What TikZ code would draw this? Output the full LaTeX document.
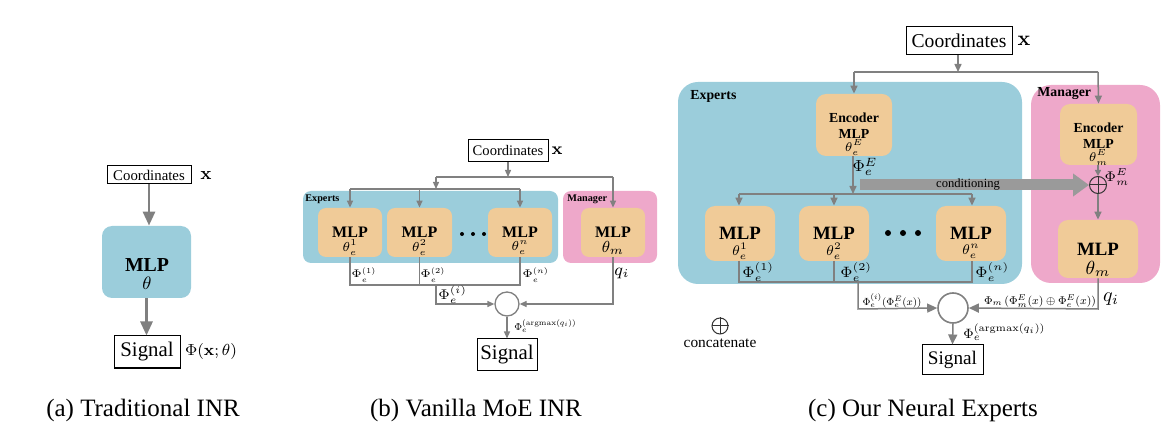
\RequirePackage{fix-cm}
\documentclass[tikz,border=0pt]{standalone}
\usepackage[no-math]{fontspec}
\usepackage{graphicx}
\setmainfont{Liberation Serif}
\usetikzlibrary{arrows.meta,fit,calc}
\definecolor{expblue}{HTML}{9BCDDB}
\definecolor{manpink}{HTML}{EEA8CA}
\definecolor{mlporange}{HTML}{F0CB98}
\definecolor{lgray}{HTML}{808080}
\definecolor{condgray}{HTML}{9A9A9A}
\newcommand{\fsz}[1]{\fontsize{#1}{#1}\selectfont}
\tikzset{
  txtbox/.style={draw=black, line width=0.5pt, inner sep=0pt},
  region/.style={inner sep=0pt, draw=none},
  mlpbox/.style={fill=mlporange, draw=none, inner sep=0pt, rounded corners=4pt},
  wireA/.style={draw=lgray, line width=1.4pt, -{Triangle[length=7pt,width=6pt]}},
  wireB/.style={draw=lgray, line width=0.65pt},
  arrB/.style={wireB, -{Triangle[length=3.5pt,width=3pt]}},
  wireC/.style={draw=lgray, line width=0.75pt},
  arrC/.style={wireC, -{Triangle[length=4pt,width=3.5pt]}},
  arrCbig/.style={wireC, -{Triangle[length=5pt,width=4.5pt]}},
  lbl/.style={inner sep=0pt},
  dot/.style={circle, fill=black, inner sep=0pt},
  caption/.style={inner sep=0pt, font=\fsz{12.5pt}},
}
\begin{document}
\begin{tikzpicture}[x=0.5pt,y=-0.5pt]
\useasboundingbox (0,0) rectangle (1173,443);

% ---------------- (a) ----------------
\node[txtbox, minimum width=42pt, minimum height=9pt, font=\fsz{7.4pt}] (ca) at (149,175) {Coordinates};
\node[lbl, font=\fsz{9pt}] (xa) at (206,176) {$\mathbf{x}$};
\node[region, fill=expblue, rounded corners=5pt, fit={(102,226)(191,298)}] (mlpa) {};
\node[lbl, font=\bfseries\fsz{9.9pt}] (mlpat) at (147,265) {MLP};
\node[lbl, font=\fsz{9pt}] (thetaa) at (147,283) {$\theta$};
\node[txtbox, minimum width=33pt, minimum height=16pt, font=\fsz{10.4pt}] (sa) at (147,352) {Signal};
\node[lbl, font=\fsz{8pt}] (phia) at (211,352) {$\Phi(\mathbf{x};\theta)$};
\draw[wireA] (ca.south) -- (ca.south |- mlpa.north);
\draw[wireA] (mlpa.south) -- (mlpa.south |- sa.north);
\node[caption] (capa) at (143,410) {(a) Traditional INR};

% ---------------- (b) ----------------
\node[txtbox, minimum width=40pt, minimum height=11pt, font=\fsz{7.3pt}] (cb) at (508,151) {Coordinates};
\node[lbl, font=\fsz{8.5pt}] (xb) at (557,151) {$\mathbf{x}$};
\node[region, fill=expblue, rounded corners=4pt, fit={(303,191)(558,263)}] (expb) {};
\node[region, fill=manpink, rounded corners=4pt, fit={(563,191)(657,263)}] (manb) {};
\node[lbl, anchor=west, font=\bfseries\fsz{5.1pt}] (expbt) at (305,199) {Experts};
\node[lbl, anchor=west, font=\bfseries\fsz{5.1pt}] (manbt) at (567,199) {Manager};
\node[mlpbox, fit={(318,208)(382,257)}] (e1b) {};
\node[mlpbox, fit={(387,208)(452,257)}] (e2b) {};
\node[mlpbox, fit={(488,208)(552,257)}] (enb) {};
\node[mlpbox, fit={(581,208)(645,257)}] (mb) {};
\foreach \n/\s in {e1b/1, e2b/2, enb/n}{
  \node[lbl, font=\bfseries\fsz{8pt}] (\n t) at ($(\n.north)+(0,25)$) {MLP};
  \node[lbl, font=\fsz{6.5pt}] (\n th) at ($(\n.north)+(0,40)$) {$\theta_e^{\s}$};
}
\node[lbl, font=\bfseries\fsz{8pt}] (mbt) at ($(mb.north)+(0,25)$) {MLP};
\node[lbl, font=\fsz{8pt}] (mbth) at ($(mb.north)+(0,40)$) {$\theta_m$};
\node[dot, minimum size=2pt] (db1) at (462,234) {};
\node[dot, minimum size=2pt] (db2) at (473,234) {};
\node[dot, minimum size=2pt] (db3) at (484,234) {};
\coordinate (jb0) at (508,177);
\coordinate (jb1) at (436,189);
\draw[arrB] (cb.south -| jb0) -- (jb0);
\draw[wireB] (436,177) -- (mb.north |- jb0);
\draw[arrB] (436,177) -- (jb1);
\draw[arrB] (mb.north |- jb0) -- (mb.north);
\draw[wireB] (e1b.north |- jb1) -- (enb.north |- jb1);
\draw[arrB] (e1b.north |- jb1) -- (e1b.north);
\draw[arrB] (e2b.north |- jb1) -- (e2b.north);
\draw[arrB] (enb.north |- jb1) -- (enb.north);
\node[circle, draw=lgray, line width=0.65pt, minimum size=12pt, inner sep=0pt] (gb) at (507,304) {};
\node[txtbox, minimum width=30pt, minimum height=15.5pt, font=\fsz{10.4pt}] (sb) at (507,354.5) {Signal};
\coordinate (ob) at (350,285);
\draw[wireB] (e1b.south) -- (e1b.south |- ob) -- (enb.south |- ob) -- (enb.south);
\draw[wireB] (e2b.south) -- (e2b.south |- ob);
\draw[arrB] (436,285) -- (436,304) -- (gb.west);
\draw[arrB] (mb.south) -- (mb.south |- gb) -- (gb.east);
\draw[arrB] (gb.south) -- (sb.north);
\node[lbl, font=\fsz{5.5pt}, anchor=west] (p1b) at (351,275) {$\Phi_e^{(1)}$};
\node[lbl, font=\fsz{5.5pt}, anchor=west] (p2b) at (420,275) {$\Phi_e^{(2)}$};
\node[lbl, font=\fsz{5.5pt}, anchor=west] (pnb) at (522,275) {$\Phi_e^{(n)}$};
\node[lbl, font=\fsz{7pt}, anchor=west] (pib) at (438,295) {$\Phi_e^{(i)}$};
\node[lbl, font=\fsz{8.5pt}] (qb) at (622,273) {$q_i$};
\node[lbl, font=\fsz{8pt}, anchor=west] (pab) at (514,326) {\resizebox{31pt}{!}{$\Phi_e^{(\mathrm{argmax}(q_i))}$}};
\node[caption] (capb) at (476,410) {(b) Vanilla MoE INR};

% ---------------- (c) ----------------
\node[txtbox, minimum width=53pt, minimum height=14pt, font=\fsz{9.8pt}] (cc) at (959,41) {Coordinates};
\node[lbl, font=\fsz{10.5pt}] (xc) at (1024,41) {$\mathbf{x}$};
\node[region, fill=expblue, rounded corners=10pt, fit={(678,82)(1022,284)}] (expc) {};
\node[region, fill=manpink, rounded corners=10pt, fit={(1031,85)(1160,283)}] (manc) {};
\node[lbl, anchor=west, font=\bfseries\fsz{6.9pt}] (expct) at (690,96) {Experts};
\node[lbl, anchor=west, font=\bfseries\fsz{6.9pt}] (manct) at (1037,94) {Manager};
\node[mlpbox, rounded corners=5pt, fit={(816,94)(892,156)}] (ence) {};
\node[mlpbox, rounded corners=5pt, fit={(1060,104)(1137,165)}] (encm) {};
\node[lbl, font=\bfseries\fsz{6.9pt}] (encet) at ($(ence.north)+(0,24)$) {Encoder};
\node[lbl, font=\bfseries\fsz{6.9pt}] (encet2) at ($(ence.north)+(0,40)$) {MLP};
\node[lbl, font=\fsz{6.3pt}] (enceth) at ($(ence.north)+(0,54)$) {$\theta_e^{E}$};
\node[lbl, font=\bfseries\fsz{6.9pt}] (encmt) at ($(encm.north)+(0,24)$) {Encoder};
\node[lbl, font=\bfseries\fsz{6.9pt}] (encmt2) at ($(encm.north)+(0,40)$) {MLP};
\node[lbl, font=\fsz{6.3pt}] (encmth) at ($(encm.north)+(0,54)$) {$\theta_m^{E}$};
\node[mlpbox, rounded corners=5pt, fit={(705,206)(775,261)}] (e1c) {};
\node[mlpbox, rounded corners=5pt, fit={(799,206)(869,261)}] (e2c) {};
\node[mlpbox, rounded corners=5pt, fit={(936,206)(1006,261)}] (enc) {};
\node[mlpbox, rounded corners=5pt, fit={(1058,220)(1138,278)}] (mc) {};
\foreach \n/\s in {e1c/1, e2c/2, enc/n}{
  \node[lbl, font=\bfseries\fsz{9.4pt}] (\n t) at ($(\n.north)+(0,28)$) {MLP};
  \node[lbl, font=\fsz{7pt}] (\n th) at ($(\n.north)+(0,46)$) {$\theta_e^{\s}$};
}
\node[lbl, font=\bfseries\fsz{9.4pt}] (mct) at ($(mc.north)+(0,30)$) {MLP};
\node[lbl, font=\fsz{9.5pt}] (mcth) at ($(mc.north)+(0,49)$) {$\theta_m$};
\node[dot, minimum size=3pt] (dc1) at (888,233) {};
\node[dot, minimum size=3pt] (dc2) at (903,233) {};
\node[dot, minimum size=3pt] (dc3) at (918,233) {};
% oplus
\node[circle, draw=black!80, line width=0.5pt, minimum size=8.5pt, inner sep=0pt] (opc) at (1098,185) {};
\draw[black!80, line width=0.5pt] (opc.north) -- (opc.south) (opc.west) -- (opc.east);
\node[lbl, font=\fsz{7pt}] (pme) at (1117,177) {$\Phi_m^{E}$};
% top wiring
\coordinate (jc0) at (958,72);
\draw[arrC] (cc.south -| jc0) -- (jc0);
\draw[wireC] (ence.north |- jc0) -- (1098,72);
\draw[arrC] (ence.north |- jc0) -- (ence.north);
\draw[arrC] (1098,72) -- (encm.north);
\coordinate (jc1) at (853,194);
\draw[arrC] (ence.south -| jc1) -- (jc1);
\node[lbl, font=\fsz{8pt}] (pee) at (865,167) {$\Phi_e^{E}$};
\draw[wireC] (739,194) -- (972,194);
\draw[arrC] (739,194) -- (e1c.north -| 739,0);
\draw[arrC] (834,194) -- (e2c.north -| 834,0);
\draw[arrC] (972,194) -- (enc.north -| 972,0);
\draw[wireC, -{Triangle[length=3pt,width=3pt]}] (encm.south -| opc) -- (opc.north);
\draw[arrC] (opc.south) -- (mc.north -| opc);
% conditioning arrow
\coordinate (cond0) at (860,185);
\draw[condgray, line width=5.5pt, -{Triangle[length=8pt,width=11pt]}] (cond0) -- (opc.west);
\node[lbl, font=\fsz{6.3pt}] (condt) at (968,184) {conditioning};
% outputs
\node[circle, draw=lgray, line width=0.8pt, minimum size=15pt, inner sep=0pt] (gc) at (953,308) {};
\node[txtbox, minimum width=30.5pt, minimum height=14.5pt, font=\fsz{9.6pt}] (sc) at (952.5,359.5) {Signal};
\draw[wireC] (739,261) -- (739,282) -- (972,282) -- (972,261);
\draw[wireC] (834,261) -- (834,282);
\draw[arrCbig] (858,282) -- (858,309) -- (gc.west);
\draw[arrCbig] (mc.south -| opc) -- (1098,309) -- (gc.east);
\draw[arrCbig] (gc.south) -- (sc.north);
\node[lbl, font=\fsz{7.5pt}, anchor=west] (p1c) at (742,272) {$\Phi_e^{(1)}$};
\node[lbl, font=\fsz{7.5pt}, anchor=west] (p2c) at (840,272) {$\Phi_e^{(2)}$};
\node[lbl, font=\fsz{7.5pt}, anchor=west] (pnc) at (975,272) {$\Phi_e^{(n)}$};
\node[lbl, font=\fsz{8pt}] (pic) at (892,301) {\resizebox{29.5pt}{!}{$\Phi_e^{(i)}(\Phi_e^E(x))$}};
\node[lbl, font=\fsz{8pt}] (pmc) at (1040,301) {\resizebox{56pt}{!}{$\Phi_m\,(\Phi_m^E(x)\oplus\Phi_e^E(x))$}};
\node[lbl, font=\fsz{10pt}] (qc) at (1111,299) {$q_i$};
\node[lbl, font=\fsz{8pt}, anchor=west] (pac) at (963,332) {\resizebox{41pt}{!}{$\Phi_e^{(\mathrm{argmax}(q_i))}$}};
% legend
\node[circle, draw=black!80, line width=0.5pt, minimum size=8pt, inner sep=0pt] (opl) at (720,326) {};
\draw[black!80, line width=0.5pt] (opl.north) -- (opl.south) (opl.west) -- (opl.east);
\node[lbl, font=\fsz{7.7pt}] (concat) at (720,343) {concatenate};
\node[caption] (capc) at (923,410) {(c) Our Neural Experts};
\end{tikzpicture}
\end{document}
